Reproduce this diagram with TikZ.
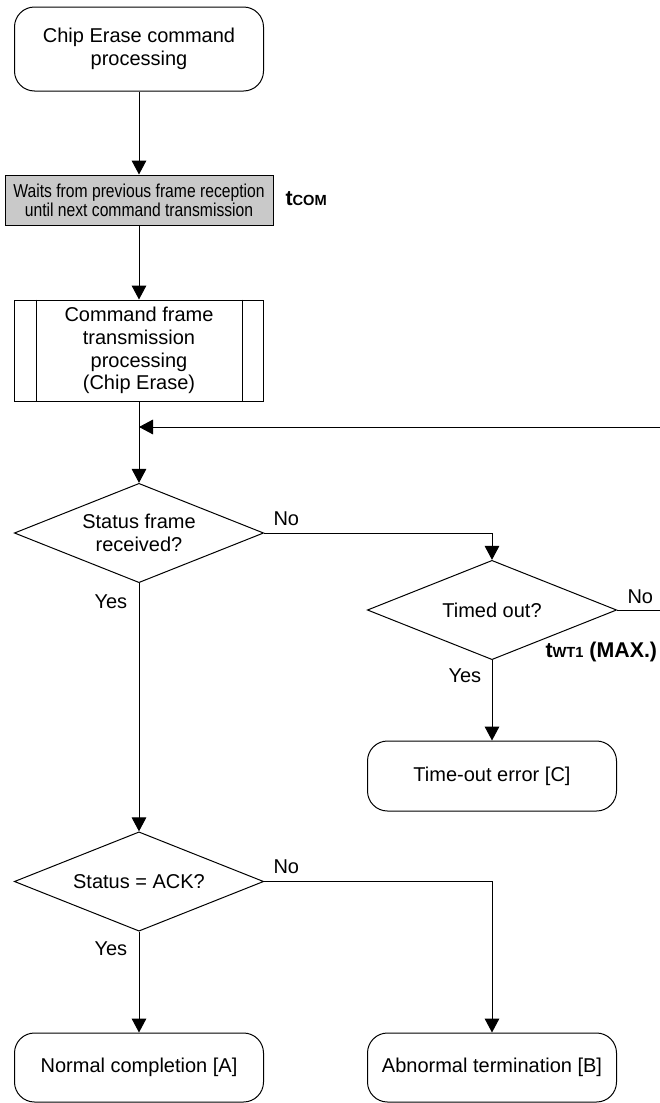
\documentclass[tikz,border=0pt]{standalone}
\usepackage{fontspec}
\setmainfont{Liberation Sans}
\newfontfamily\narrowfont[FakeStretch=0.84]{Liberation Sans}
\usetikzlibrary{shapes.geometric,arrows.meta}
\begin{document}
\begin{tikzpicture}[x=0.75pt,y=-0.75pt,
  line width=0.75pt,
  every node/.style={inner sep=0pt, font=\fontsize{15pt}{17pt}\selectfont},
  term/.style={draw, rounded corners=15pt, align=center, minimum width=186.75pt},
  waitbox/.style={draw, fill=black!21, align=center, minimum width=201pt, minimum height=37.5pt,
     font=\narrowfont\fontsize{14pt}{14pt}\selectfont},
  procbox/.style={draw, align=center, minimum width=186.75pt, minimum height=75.75pt},
  decision/.style={draw, diamond, aspect=2.5, align=center, minimum width=187pt, minimum height=74.5pt},
  lbl/.style={anchor=base west},
  tlbl/.style={anchor=base west, font=\bfseries\fontsize{16pt}{18pt}\selectfont},
  flow/.style={-{Triangle[length=10.5pt,width=11pt]}},
]
\useasboundingbox (0,0) rectangle (660,1103);

\node[term, minimum height=63pt] (start) at (139,49) {Chip Erase command\\processing};
\node[waitbox] (wait) at (139,200) {Waits from previous frame reception\\until next command transmission};
\node[procbox] (cmd) at (139,350.5) {Command frame\\transmission\\processing\\(Chip Erase)};
\draw ([xshift=16.5pt]cmd.north west) -- ([xshift=16.5pt]cmd.south west);
\draw ([xshift=-16.5pt]cmd.north east) -- ([xshift=-16.5pt]cmd.south east);

\node[decision] (status) at (139,533) {Status frame\\received?};
\node[decision] (timed) at (492,610) {Timed out?};
\node[term, minimum height=52.5pt] (tout) at (492,776) {Time-out error [C]};
\node[decision] (ack) at (139,881.5) {Status = ACK?};
\node[term, minimum height=51.75pt] (normal) at (139,1067.5) {Normal completion [A]};
\node[term, minimum height=51.75pt] (abn) at (492,1067.5) {Abnormal termination [B]};

\coordinate (join) at (139,427);
\coordinate (loopR) at (660,427);
\coordinate (timedR) at (660,610);

\draw[flow] (start) -- (wait);
\draw[flow] (wait) -- (cmd);
\draw[flow] (cmd) -- (status);
\draw[flow] (loopR) -- (join);
\draw[flow] (status.east) -| (timed.north);
\draw (timed.east) -- (timedR);
\draw[flow] (timed) -- (tout);
\draw[flow] (status) -- (ack);
\draw[flow] (ack) -- (normal);
\draw[flow] (ack.east) -| (abn.north);

\node[lbl] (no1) at (273,525) {No};
\node[lbl] (yes1) at (94,608) {Yes};
\node[lbl] (no2) at (627,603) {No};
\node[lbl] (yes2) at (448,682) {Yes};
\node[lbl] (no3) at (273,873) {No};
\node[lbl] (yes3) at (94,955) {Yes};

\node[tlbl] (tcom) at (285,205) {t{\fontsize{11pt}{12pt}\selectfont COM}};
\node[tlbl] (twt) at (545,657) {t{\fontsize{11pt}{12pt}\selectfont WT1} (MAX.)};
\end{tikzpicture}
\end{document}
